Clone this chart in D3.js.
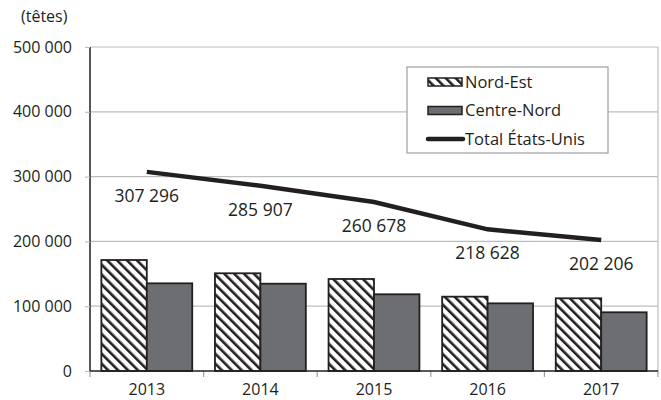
<!DOCTYPE html>
<html>
<head>
<meta charset="utf-8">
<script src="https://cdn.jsdelivr.net/npm/d3@7"></script>
<style>
  body { margin: 0; background: #fff; }
  text { font-family: "Open Sans", sans-serif; fill: #231f20; }
</style>
</head>
<body>
<svg width="661" height="400"></svg>
<script>
var years = ["2013", "2014", "2015", "2016", "2017"];
var nordEst = [171300, 150800, 142000, 114700, 112200];
var centreNord = [135300, 134700, 118400, 104400, 90600];
var totalUS = [307296, 285907, 260678, 218628, 202206];
var yTicks = [0, 100000, 200000, 300000, 400000, 500000];

var svg = d3.select("svg"),
	margin = {top: 47, right: 3, bottom: 29, left: 90},
	width = +svg.attr("width") - margin.left - margin.right,
	height = +svg.attr("height") - margin.top - margin.bottom;

var fr = d3.formatLocale({decimal: ",", thousands: "\u00a0", grouping: [3], currency: ["", " €"]});
var fmt = fr.format(",d");

var defs = svg.append("defs");
var pat = defs.append("pattern")
	.attr("id", "hatch")
	.attr("patternUnits", "userSpaceOnUse")
	.attr("width", 7).attr("height", 7)
	.attr("patternTransform", "rotate(-45)");
pat.append("rect").attr("width", 7).attr("height", 7).attr("fill", "#fff");
pat.append("rect").attr("width", 2.6).attr("height", 7).attr("fill", "#231f20");

var g = svg.append("g").attr("transform", "translate(" + margin.left + "," + margin.top + ")");

var x = d3.scaleBand().domain(years).range([0, width]);
var x1 = d3.scaleBand().domain(["ne", "cn"]).range([0, x.bandwidth()]).paddingOuter(0.25).paddingInner(0);
var y = d3.scaleLinear().domain([0, 500000]).range([height, 0]);

// grid
g.append("g").selectAll("line").data(yTicks.slice(1)).enter().append("line")
	.attr("x1", 0).attr("x2", width)
	.attr("y1", function(d) { return y(d); }).attr("y2", function(d) { return y(d); })
	.attr("stroke", "#bcbec0").attr("stroke-width", 1.2);
g.append("line").attr("x1", width).attr("x2", width).attr("y1", 0).attr("y2", height)
	.attr("stroke", "#bcbec0").attr("stroke-width", 1.2);

// bars
var groups = g.append("g").selectAll("g").data(years).enter().append("g")
	.attr("transform", function(d) { return "translate(" + x(d) + ",0)"; });

groups.append("rect")
	.attr("x", x1("ne")).attr("width", x1.bandwidth())
	.attr("y", function(d, i) { return y(nordEst[i]); })
	.attr("height", function(d, i) { return height - y(nordEst[i]); })
	.attr("fill", "url(#hatch)").attr("stroke", "#231f20").attr("stroke-width", 1.8);

groups.append("rect")
	.attr("x", x1("cn")).attr("width", x1.bandwidth())
	.attr("y", function(d, i) { return y(centreNord[i]); })
	.attr("height", function(d, i) { return height - y(centreNord[i]); })
	.attr("fill", "#6d6e71").attr("stroke", "#231f20").attr("stroke-width", 1.8);

// axes
var yAxis = g.append("g")
	.call(d3.axisLeft(y).tickValues(yTicks).tickFormat(fmt).tickSize(5).tickPadding(13));
yAxis.select(".domain").attr("stroke", "#231f20").attr("stroke-width", 1.5).attr("d", "M0," + height + "V0");
yAxis.selectAll(".tick line").attr("stroke", "#bcbec0").attr("stroke-width", 1.2);
yAxis.selectAll("text").style("font-size", "16px").attr("fill", "#231f20");

var xAxis = g.append("g").attr("transform", "translate(0," + height + ")")
	.call(d3.axisBottom(x).tickSize(0).tickPadding(13));
xAxis.select(".domain").remove();
xAxis.selectAll("text").style("font-size", "16px").attr("fill", "#231f20");
xAxis.selectAll("line.sep").data(years.concat(["end"])).enter().append("line")
	.attr("class", "sep")
	.attr("x1", function(d, i) { return i * x.step(); }).attr("x2", function(d, i) { return i * x.step(); })
	.attr("y1", 0).attr("y2", 6)
	.attr("stroke", "#9d9fa2").attr("stroke-width", 1.2);
xAxis.append("line").attr("x1", 0).attr("x2", width).attr("y1", 0).attr("y2", 0)
	.attr("stroke", "#231f20").attr("stroke-width", 1.5);

// total line
var line = d3.line()
	.x(function(d, i) { return x(years[i]) + x.bandwidth() / 2; })
	.y(function(d) { return y(d); });

g.append("path").datum(totalUS)
	.attr("d", line)
	.attr("fill", "none").attr("stroke", "#231f20").attr("stroke-width", 4.5);

g.append("g").selectAll("text").data(totalUS).enter().append("text")
	.attr("x", function(d, i) { return x(years[i]) + x.bandwidth() / 2; })
	.attr("y", function(d) { return y(d) + 30; })
	.attr("text-anchor", "middle")
	.style("font-size", "17.5px")
	.text(function(d) { return fmt(d); });

// unit
svg.append("text").attr("x", 21).attr("y", 22).style("font-size", "16px").text("(têtes)");

// legend
var lg = svg.append("g").attr("transform", "translate(407,67)");
lg.append("rect").attr("width", 201).attr("height", 86)
	.attr("fill", "#fff").attr("stroke", "#9d9fa2").attr("stroke-width", 1.2);
var items = [
	{label: "Nord-Est", type: "hatch"},
	{label: "Centre-Nord", type: "solid"},
	{label: "Total États-Unis", type: "line"}
];
var row = lg.selectAll("g.item").data(items).enter().append("g")
	.attr("transform", function(d, i) { return "translate(21," + (15 + i * 28.5) + ")"; });
row.filter(function(d) { return d.type !== "line"; }).append("rect")
	.attr("x", 0).attr("y", -4).attr("width", 34).attr("height", 8)
	.attr("fill", function(d) { return d.type === "hatch" ? "url(#hatch)" : "#6d6e71"; })
	.attr("stroke", "#231f20").attr("stroke-width", 1.5);
row.filter(function(d) { return d.type === "line"; }).append("line")
	.attr("x1", 0).attr("x2", 35).attr("y1", 0).attr("y2", 0)
	.attr("stroke", "#231f20").attr("stroke-width", 4.5).attr("stroke-linecap", "round");
row.append("text").attr("x", 37).attr("y", 0).attr("dy", "0.35em")
	.style("font-size", "16.5px").text(function(d) { return d.label; });
</script>
</body>
</html>
